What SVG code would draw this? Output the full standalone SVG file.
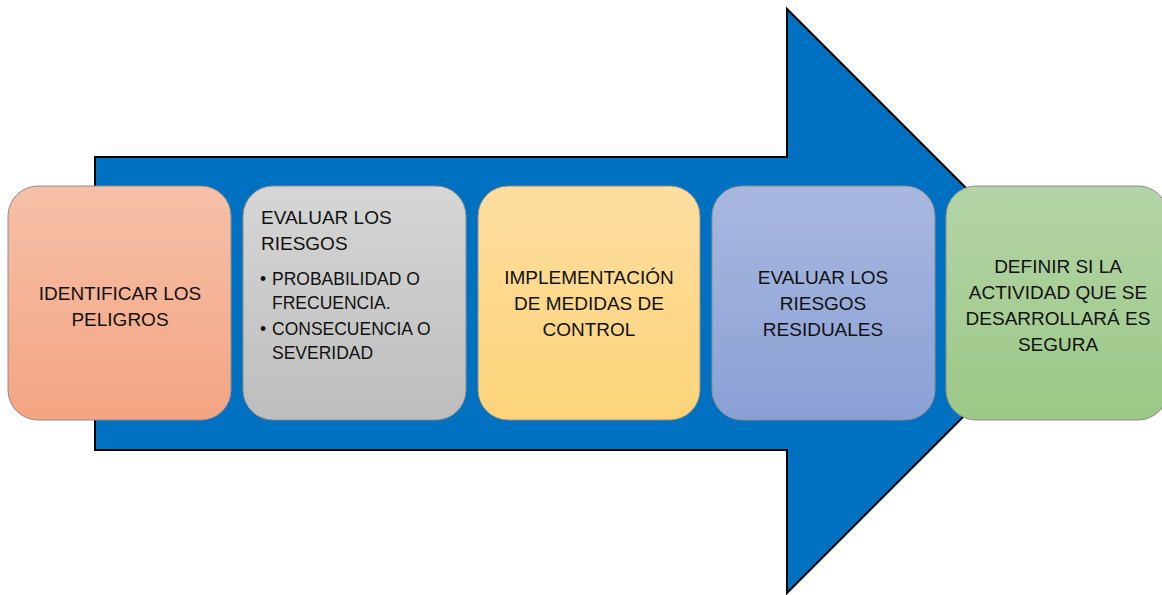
<svg xmlns="http://www.w3.org/2000/svg" width="1162" height="595" viewBox="0 0 1162 595">
<defs>
<linearGradient id="g1" x1="0" y1="0" x2="0" y2="1"><stop offset="0" stop-color="#F6C0A8"/><stop offset="1" stop-color="#F4A482"/></linearGradient>
<linearGradient id="g2" x1="0" y1="0" x2="0" y2="1"><stop offset="0" stop-color="#D6D6D6"/><stop offset="1" stop-color="#BDBDBD"/></linearGradient>
<linearGradient id="g3" x1="0" y1="0" x2="0" y2="1"><stop offset="0" stop-color="#FEDDA0"/><stop offset="1" stop-color="#FDD479"/></linearGradient>
<linearGradient id="g4" x1="0" y1="0" x2="0" y2="1"><stop offset="0" stop-color="#A9B8DF"/><stop offset="1" stop-color="#8AA0D5"/></linearGradient>
<linearGradient id="g5" x1="0" y1="0" x2="0" y2="1"><stop offset="0" stop-color="#B4D4A7"/><stop offset="1" stop-color="#9CC886"/></linearGradient>
</defs>
<style>
.box{stroke:#8C8C8C;stroke-width:1}
.t{font-family:"Liberation Sans",Arial,sans-serif;font-size:19px;fill:#111}
.c{text-anchor:middle}
.s{font-size:17.5px}
</style>
<rect width="1162" height="595" fill="#fff"/>
<g id="connectors">
<path d="M95,157 H787 V9 L1079,301 L787,593 V450 H95 Z" fill="#0070C0" stroke="#000" stroke-width="2"/>
</g>
<g id="n1"><rect class="box" x="8" y="186" width="223" height="234" rx="30" fill="url(#g1)"/>
<text class="t c" x="120" y="300">IDENTIFICAR LOS</text><text class="t c" x="120" y="326">PELIGROS</text></g>
<g id="n2"><rect class="box" x="243" y="186" width="223" height="234" rx="30" fill="url(#g2)"/>
<text class="t" x="261" y="224">EVALUAR LOS</text><text class="t" x="261" y="250">RIESGOS</text>
<text class="t s" x="260" y="285">•</text><text class="t s" x="272" y="285">PROBABILIDAD O</text>
<text class="t s" x="272" y="309">FRECUENCIA.</text>
<text class="t s" x="260" y="335">•</text><text class="t s" x="272" y="335">CONSECUENCIA O</text>
<text class="t s" x="272" y="359">SEVERIDAD</text></g>
<g id="n3"><rect class="box" x="478" y="186" width="222" height="234" rx="30" fill="url(#g3)"/>
<text class="t c" x="589" y="284">IMPLEMENTACIÓN</text><text class="t c" x="589" y="310">DE MEDIDAS DE</text><text class="t c" x="589" y="336">CONTROL</text></g>
<g id="n4"><rect class="box" x="712" y="186" width="223" height="234" rx="30" fill="url(#g4)"/>
<text class="t c" x="823" y="284">EVALUAR LOS</text><text class="t c" x="823" y="310">RIESGOS</text><text class="t c" x="823" y="336">RESIDUALES</text></g>
<g id="n5"><rect class="box" x="946" y="186" width="222" height="234" rx="30" fill="url(#g5)"/>
<text class="t c" x="1058" y="273">DEFINIR SI LA</text><text class="t c" x="1058" y="299">ACTIVIDAD QUE SE</text><text class="t c" x="1058" y="325">DESARROLLARÁ ES</text><text class="t c" x="1058" y="351">SEGURA</text></g>
</svg>
